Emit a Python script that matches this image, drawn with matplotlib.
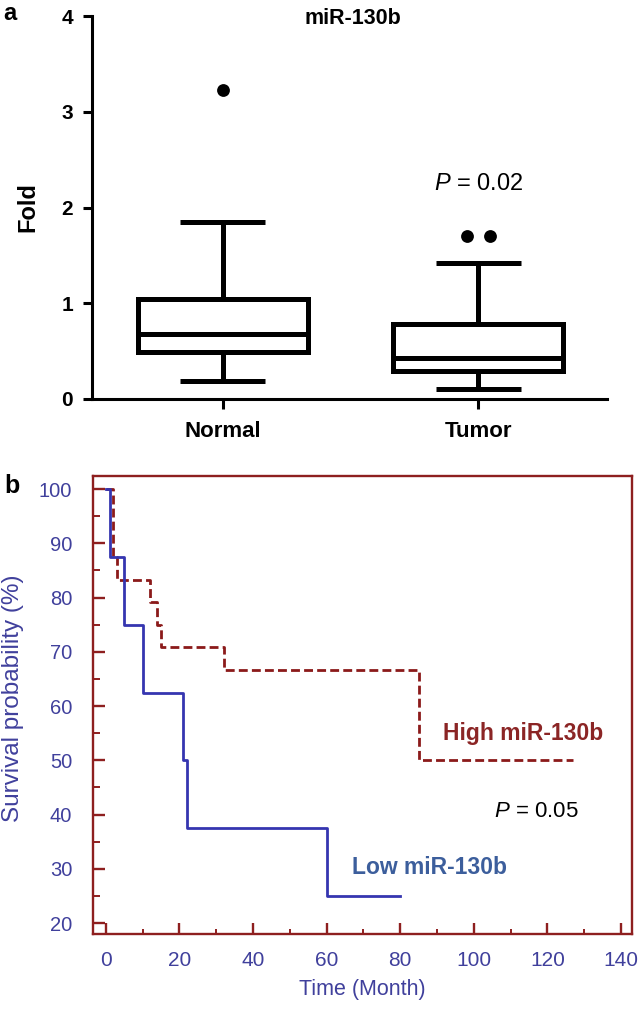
import matplotlib
matplotlib.use("Agg")
import matplotlib.pyplot as plt
from matplotlib.ticker import MultipleLocator

# ---------------- data ----------------
groups = ["Normal", "Tumor"]
whisker_low = [0.19, 0.10]
q1_vals = [0.49, 0.29]
median_vals = [0.68, 0.43]
q3_vals = [1.04, 0.78]
whisker_high = [1.85, 1.42]
outliers = [[3.23], [1.70, 1.70]]
panel_a_title = "miR-130b"
panel_a_p = "0.02"

low_time = [0, 1, 5, 10, 21, 22, 60, 80]
low_surv = [100, 87.5, 75, 62.5, 50, 37.5, 25, 25]
high_time = [0, 2, 3, 12, 14, 15, 32, 85, 127]
high_surv = [100, 87.5, 83.3, 79.2, 75, 70.8, 66.7, 50, 50]
panel_b_p = "0.05"
x_ticks_b = [0, 20, 40, 60, 80, 100, 120, 140]
y_ticks_b = [20, 30, 40, 50, 60, 70, 80, 90, 100]

# ---------------- style ----------------
plt.rcParams["font.family"] = ["Liberation Sans", "DejaVu Sans"]
plt.rcParams["mathtext.fontset"] = "custom"
plt.rcParams["mathtext.rm"] = "Liberation Sans"
plt.rcParams["mathtext.it"] = "Liberation Sans:italic"

W, H = 641, 1010
fig = plt.figure(figsize=(W / 100, H / 100), dpi=100)

# ---------------- panel a ----------------
ax1 = fig.add_axes([92 / W, 1 - 399 / H, (607 - 92) / W, (399 - 16) / H])
stats = []
for i, g in enumerate(groups):
    stats.append(dict(label=g, med=median_vals[i], q1=q1_vals[i], q3=q3_vals[i],
                      whislo=whisker_low[i], whishi=whisker_high[i], fliers=[]))
lw_box = 3.6
ax1.bxp(stats, positions=[1, 2], widths=0.664, showfliers=False,
        boxprops=dict(color="black", linewidth=lw_box, solid_joinstyle="miter"),
        whiskerprops=dict(color="black", linewidth=lw_box),
        capprops=dict(color="black", linewidth=lw_box, solid_capstyle="butt"),
        medianprops=dict(color="black", linewidth=lw_box, solid_capstyle="butt"))
for i, vals in enumerate(outliers):
    n = len(vals)
    for j, v in enumerate(vals):
        off = 0 if n == 1 else (-0.045 + 0.09 * j / (n - 1))
        ax1.scatter([i + 1 + off], [v], s=85, color="black", zorder=5, linewidths=0)

ax1.set_xlim(0.488, 2.504)
ax1.set_ylim(0, 4)
for s in ["top", "right"]:
    ax1.spines[s].set_visible(False)
for s in ["left", "bottom"]:
    ax1.spines[s].set_linewidth(2.2)
ax1.set_yticks([0, 1, 2, 3, 4])
ax1.set_xticks([1, 2])
ax1.set_xticklabels(groups)
ax1.tick_params(axis="y", direction="out", length=6.5, width=2.2, pad=7,
                labelsize=15)
ax1.tick_params(axis="x", direction="out", length=7, width=2.2, pad=9,
                labelsize=16)
for lab in ax1.get_xticklabels() + ax1.get_yticklabels():
    lab.set_fontweight("bold")
ax1.set_ylabel("Fold", fontsize=17, fontweight="bold")
ax1.yaxis.set_label_coords((28 - 92) / 515, (399 - 207) / 383)
ax1.yaxis.label.set_va("center")
ax1.text(1.511, 3.975, panel_a_title, ha="center", va="center", fontsize=15.5,
         fontweight="bold")
ax1.text(2.0, 2.25, r"$\mathit{P}$ = " + panel_a_p, ha="center", va="center",
         fontsize=17)

# ---------------- panel b ----------------
dark_red = "#8E1F1F"
label_blue = "#40409C"
ax2 = fig.add_axes([93 / W, 1 - 934 / H, (632 - 93) / W, (934 - 476) / H])
ax2.step(high_time, high_surv, where="post", color="#8B1A1A", linewidth=2.0,
         linestyle=(0, (3.2, 1.5)))
ax2.step(low_time, low_surv, where="post", color="#3535B0", linewidth=2.0)
ax2.set_xlim(-3.5, 143)
ax2.set_ylim(18, 102.4)
for s in ax2.spines.values():
    s.set_color(dark_red)
    s.set_linewidth(1.7)
ax2.set_xticks(x_ticks_b)
ax2.set_yticks(y_ticks_b)
ax2.xaxis.set_minor_locator(MultipleLocator(10))
ax2.yaxis.set_minor_locator(MultipleLocator(5))
ax2.tick_params(axis="x", which="major", direction="in", length=8, width=1.7,
                color=dark_red, labelcolor=label_blue, labelsize=15, pad=12)
ax2.tick_params(axis="x", which="minor", direction="in", length=3.5, width=1.4,
                color=dark_red)
ax2.tick_params(axis="y", which="major", direction="in", length=8.5, width=1.7,
                color=dark_red, labelcolor=label_blue, labelsize=14.5, pad=15)
ax2.tick_params(axis="y", which="minor", direction="in", length=5, width=1.4,
                color=dark_red)
ax2.set_xlabel("Time (Month)", fontsize=15.5, color=label_blue)
ax2.xaxis.set_label_coords(0.5, (934 - 990) / 458)
ax2.xaxis.label.set_va("center")
ax2.set_ylabel("Survival probability (%)", fontsize=17.5, color=label_blue)
ax2.yaxis.set_label_coords((13 - 93) / 539, (934 - 698) / 458)
ax2.yaxis.label.set_va("center")

ax2.text(113.3, 54.9, "High miR-130b", ha="center", va="center", fontsize=16.5,
         fontweight="bold", color="#8B2525")
ax2.text(88, 30.3, "Low miR-130b", ha="center", va="center", fontsize=16.5,
         fontweight="bold", color="#3C5E9C")
ax2.text(117, 40.5, r"$\mathit{P}$ = " + panel_b_p, ha="center", va="center",
         fontsize=16, color="black")

# panel letters
fig.text(10 / W, 1 - 13 / H, "a", ha="center", va="center", fontsize=17,
         fontweight="bold")
fig.text(12 / W, 1 - 486 / H, "b", ha="center", va="center", fontsize=18,
         fontweight="bold")

fig.savefig("out.png", dpi=100)
